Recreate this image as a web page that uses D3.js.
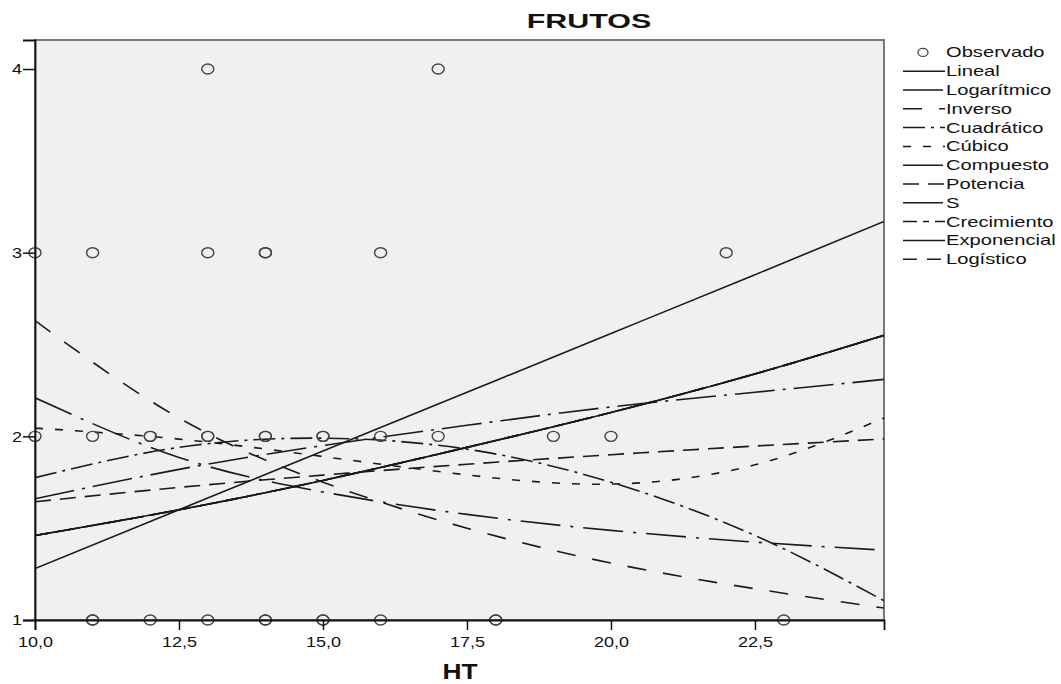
<!DOCTYPE html>
<html>
<head>
<meta charset="utf-8">
<script src="https://cdn.jsdelivr.net/npm/d3@7"></script>
<style>
  body { margin: 0; background: #fff; }
  text { font-family: "Liberation Sans", Arial, sans-serif; fill: #111; }
</style>
</head>
<body>
<div id="chart"></div>
<script>
// observed points (HT, FRUTOS)
var obsX = [13, 17,
            10, 11, 13, 14, 14, 16, 22,
            10, 11, 12, 12, 13, 13, 14, 14, 15, 15, 16, 17, 19, 20,
            11, 11, 12, 13, 14, 14, 15, 15, 16, 18, 18, 23];
var obsY = [4, 4,
            3, 3, 3, 3, 3, 3, 3,
            2, 2, 2, 2, 2, 2, 2, 2, 2, 2, 2, 2, 2, 2,
            1, 1, 1, 1, 1, 1, 1, 1, 1, 1, 1, 1];

// fitted curves at these HT values
var fitX = [10, 12.5, 15, 17.5, 20, 22.5, 24.74];
var lineal      = [1.28, 1.60, 1.92, 2.24, 2.56, 2.88, 3.17];
var logaritmico = [1.66, 1.82, 1.95, 2.06, 2.16, 2.24, 2.31];
var inverso     = [2.63, 2.10, 1.75, 1.50, 1.31, 1.17, 1.065];
var cuadratico  = [1.775, 1.94, 1.99, 1.93, 1.75, 1.46, 1.105];
var cubico      = [2.045, 1.985, 1.89, 1.79, 1.74, 1.845, 2.10];
var compuesto   = [1.46, 1.60, 1.76, 1.94, 2.13, 2.34, 2.55];
var potencia    = [1.644, 1.722, 1.789, 1.848, 1.90, 1.947, 1.986];
var sCurva      = [2.21, 1.885, 1.697, 1.575, 1.488, 1.424, 1.38];
var crecimiento = [1.46, 1.60, 1.76, 1.94, 2.13, 2.34, 2.55];
var exponencial = [1.46, 1.60, 1.76, 1.94, 2.13, 2.34, 2.55];
var logistico   = [1.46, 1.60, 1.76, 1.94, 2.13, 2.34, 2.55];

var xTicks = [10, 12.5, 15, 17.5, 20, 22.5];
var yTicks = [1, 2, 3, 4];

var models = [
    { name: "Lineal",      values: lineal,      dash: null },
    { name: "Logarítmico", values: logaritmico, dash: "40,8,3,8" },
    { name: "Inverso",     values: inverso,     dash: "19,17" },
    { name: "Cuadrático",  values: cuadratico,  dash: "22,6,3,6" },
    { name: "Cúbico",      values: cubico,      dash: "8,12" },
    { name: "Compuesto",   values: compuesto,   dash: "40,8,3,8" },
    { name: "Potencia",    values: potencia,    dash: "16,9" },
    { name: "S",           values: sCurva,      dash: "40,10,3,10" },
    { name: "Crecimiento", values: crecimiento, dash: "14,6,6,6" },
    { name: "Exponencial", values: exponencial, dash: null },
    { name: "Logístico",   values: logistico,   dash: "14,10" }
];

var width = 1061, height = 684;
var plot = { left: 35, right: 884, top: 40, bottom: 620 };

var svg = d3.select("#chart")
    .append("svg")
    .attr("width", width)
    .attr("height", height);

var x = d3.scaleLinear().domain([10, 24.74]).range([plot.left, plot.right]);
var y = d3.scaleLinear().domain([1, 4.158]).range([plot.bottom, plot.top]);

var comma = d3.formatLocale({ decimal: ",", thousands: ".", grouping: [3], currency: ["", ""] });

// plot background
svg.append("rect")
    .attr("x", plot.left)
    .attr("y", plot.top)
    .attr("width", plot.right - plot.left)
    .attr("height", plot.bottom - plot.top)
    .attr("fill", "#f0f0f0")
    .attr("stroke", "#6a6a6a")
    .attr("stroke-width", 1.8);

// clip the curves to the plot
svg.append("clipPath").attr("id", "clip")
    .append("rect")
    .attr("x", plot.left)
    .attr("y", plot.top)
    .attr("width", plot.right - plot.left)
    .attr("height", plot.bottom - plot.top);

// fitted curves
var line = d3.line()
    .x(function (d) { return x(d[0]); })
    .y(function (d) { return y(d[1]); })
    .curve(d3.curveNatural);

svg.append("g")
    .attr("clip-path", "url(#clip)")
    .selectAll("path")
    .data(models)
    .enter()
    .append("path")
    .attr("d", function (m) {
        return line(fitX.map(function (v, i) { return [v, m.values[i]]; }));
    })
    .attr("fill", "none")
    .attr("stroke", "#1a1a1a")
    .attr("stroke-width", 1.6)
    .attr("stroke-dasharray", function (m) { return m.dash; });

// observed points
svg.append("g")
    .selectAll("ellipse")
    .data(obsX.map(function (v, i) { return [v, obsY[i]]; }))
    .enter()
    .append("ellipse")
    .attr("cx", function (d) { return x(d[0]); })
    .attr("cy", function (d) { return y(d[1]); })
    .attr("rx", 6)
    .attr("ry", 5)
    .attr("fill", "none")
    .attr("stroke", "#444")
    .attr("stroke-width", 1.4);

// axes
var yAxis = svg.append("g")
    .attr("transform", "translate(" + plot.left + ",0)")
    .call(d3.axisLeft(y).tickValues(yTicks).tickSize(12).tickFormat(d3.format("d")));
yAxis.select(".domain").attr("stroke", "#111").attr("stroke-width", 1.8);
yAxis.selectAll(".tick line").attr("stroke", "#111").attr("stroke-width", 1.5);
yAxis.selectAll(".tick text")
    .attr("x", -10.8)
    .attr("transform", "scale(1.2,1)")
    .style("font-size", "15px");

var xAxis = svg.append("g")
    .attr("transform", "translate(0," + plot.bottom + ")")
    .call(d3.axisBottom(x).tickValues(xTicks).tickSize(10).tickPadding(6)
        .tickFormat(comma.format(".1f")));
xAxis.select(".domain").attr("stroke", "#111").attr("stroke-width", 1.8);
xAxis.selectAll(".tick line").attr("stroke", "#111").attr("stroke-width", 1.5);
xAxis.selectAll(".tick text")
    .attr("transform", "scale(1.2,1)")
    .style("font-size", "15px");

// title and axis name
svg.append("text")
    .attr("transform", "translate(589,28) scale(1.45,1)")
    .attr("text-anchor", "middle")
    .style("font-size", "21px")
    .style("font-weight", "bold")
    .text("FRUTOS");

svg.append("text")
    .attr("transform", "translate(460,679) scale(1.2,1)")
    .attr("text-anchor", "middle")
    .style("font-size", "22px")
    .style("font-weight", "bold")
    .text("HT");

// legend
var legendTop = 52.4, rowH = 18.8;
var legend = svg.append("g");

legend.append("ellipse")
    .attr("cx", 923)
    .attr("cy", legendTop)
    .attr("rx", 5)
    .attr("ry", 4)
    .attr("fill", "none")
    .attr("stroke", "#444")
    .attr("stroke-width", 1.3);
legend.append("text")
    .attr("transform", "translate(946," + (legendTop + 5) + ") scale(1.44,1)")
    .style("font-size", "14px")
    .text("Observado");

var rows = legend.selectAll("g.row")
    .data(models)
    .enter()
    .append("g")
    .attr("class", "row")
    .attr("transform", function (m, i) {
        return "translate(0," + (legendTop + rowH * (i + 1)) + ")";
    });

rows.append("line")
    .attr("x1", 903)
    .attr("x2", 945)
    .attr("stroke", "#1a1a1a")
    .attr("stroke-width", 1.5)
    .attr("stroke-dasharray", function (m) { return m.dash; });

rows.append("text")
    .attr("transform", "translate(946,5) scale(1.44,1)")
    .style("font-size", "14px")
    .text(function (m) { return m.name; });
</script>
</body>
</html>
